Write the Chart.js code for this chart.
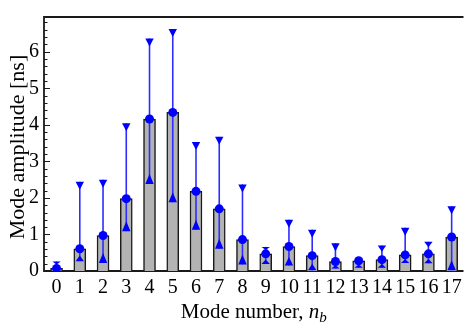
<!DOCTYPE html>
<html>
<head>
<meta charset="utf-8">
<script src="https://cdn.jsdelivr.net/npm/chart.js@4/dist/chart.umd.min.js"></script>
<style>
  html, body { margin: 0; padding: 0; background: #fff; }
  #wrap { width: 468px; height: 323px; }
</style>
</head>
<body>
<div id="wrap"><canvas id="modes" width="468" height="323"></canvas></div>
<script>
// mode number n_b and fitted amplitude (ns), with upper / lower bounds
const MODES     = [0, 1, 2, 3, 4, 5, 6, 7, 8, 9, 10, 11, 12, 13, 14, 15, 16, 17];
const AMPLITUDE = [0.07, 0.61, 0.97, 1.98, 4.16, 4.34, 2.18, 1.70, 0.86, 0.47, 0.67, 0.42, 0.26, 0.28, 0.31, 0.44, 0.47, 0.93];
const UPPER     = [0.26, 2.44, 2.50, 4.04, 6.36, 6.62, 3.53, 3.67, 2.37, 0.66, 1.40, 1.13, 0.76, 0.35, 0.70, 1.18, 0.80, 1.77];
const LOWER     = [0.00, 0.27, 0.22, 1.09, 2.38, 1.88, 1.13, 0.61, 0.18, 0.19, 0.15, 0.02, 0.07, 0.09, 0.09, 0.22, 0.21, 0.02];
const Y_MAJOR   = [0, 1, 2, 3, 4, 5, 6];

const FONT = 'Liberation Serif';
const BLUE = '#0000ff';
const INK  = '#1a1a1a';

// range error bars: line + inward-pointing heads, drawn right after the bars
const errorBars = {
  id: 'errorBars',
  afterDatasetDraw(c, args) {
    if (args.meta.type !== 'bar') return;
    const { ctx, scales: { x, y } } = c;
    ctx.save();
    ctx.strokeStyle = 'rgb(45,45,255)';
    ctx.fillStyle = BLUE;
    ctx.lineWidth = 1.6;
    MODES.forEach((m, i) => {
      const xp = x.getPixelForValue(m);
      const yc = y.getPixelForValue(AMPLITUDE[i]);
      const yh = y.getPixelForValue(UPPER[i]);
      const yl = y.getPixelForValue(LOWER[i]);
      ctx.beginPath();
      ctx.moveTo(xp, yl);
      ctx.lineTo(xp, yh);
      ctx.stroke();
      const w = 4.2;
      const hu = Math.max(2.5, Math.min(8, (yc - yh) * 0.45));
      ctx.beginPath();
      ctx.moveTo(xp - w, yh);
      ctx.lineTo(xp + w, yh);
      ctx.lineTo(xp, yh + hu);
      ctx.closePath();
      ctx.fill();
      if (LOWER[i] > 0.01) {
        const hl = Math.max(2.5, Math.min(10, (yl - yc) * 0.45));
        ctx.beginPath();
        ctx.moveTo(xp - w, yl);
        ctx.lineTo(xp + w, yl);
        ctx.lineTo(xp, yl - hl);
        ctx.closePath();
        ctx.fill();
      }
    });
    ctx.restore();
  }
};

// frame (top / left / bottom) with inward ticks
const frame = {
  id: 'frame',
  beforeDatasetsDraw(c) {
    const { ctx, chartArea: a, scales: { x, y } } = c;
    ctx.save();
    ctx.strokeStyle = INK;
    ctx.lineWidth = 1.8;
    ctx.beginPath();
    ctx.moveTo(a.right, a.top);
    ctx.lineTo(a.left, a.top);
    ctx.lineTo(a.left, a.bottom);
    ctx.lineTo(a.right, a.bottom);
    ctx.stroke();
    ctx.lineWidth = 1;
    ctx.beginPath();
    for (let v = 0; v <= 6.9; v += 0.2) {
      const major = Math.abs(v - Math.round(v)) < 1e-6;
      const yp = Math.round(y.getPixelForValue(v)) + 0.5;
      ctx.moveTo(a.left, yp);
      ctx.lineTo(a.left + (major ? 6 : 3.5), yp);
    }
    MODES.forEach(m => {
      const xp = Math.round(x.getPixelForValue(m)) + 0.5;
      ctx.moveTo(xp, a.bottom);
      ctx.lineTo(xp, a.bottom - 5);
    });
    ctx.stroke();
    ctx.restore();
  }
};

// axis titles (x title carries an italic subscripted symbol)
const titles = {
  id: 'titles',
  afterDraw(c) {
    const { ctx, chartArea: a } = c;
    ctx.save();
    ctx.fillStyle = '#000';
    ctx.textBaseline = 'alphabetic';

    const base = `21px "${FONT}"`;
    const ital = `italic 21px "${FONT}"`;
    const sub  = `italic 15px "${FONT}"`;
    const head = 'Mode number, ';
    ctx.font = base; const w1 = ctx.measureText(head).width;
    ctx.font = ital; const w2 = ctx.measureText('n').width;
    ctx.font = sub;  const w3 = ctx.measureText('b').width;
    let xs = (a.left + a.right) / 2 - (w1 + w2 + w3) / 2;
    const yb = 318;
    ctx.font = base; ctx.fillText(head, xs, yb); xs += w1;
    ctx.font = ital; ctx.fillText('n', xs, yb); xs += w2;
    ctx.font = sub;  ctx.fillText('b', xs, yb + 4);

    ctx.translate(24, 147);
    ctx.rotate(-Math.PI / 2);
    ctx.font = `22px "${FONT}"`;
    ctx.textAlign = 'center';
    ctx.fillText('Mode amplitude [ns]', 0, 0);
    ctx.restore();
  }
};

new Chart(document.getElementById('modes'), {
  type: 'bar',
  data: {
    datasets: [
      {
        type: 'scatter',
        data: MODES.map((m, i) => ({ x: m, y: AMPLITUDE[i] })),
        pointStyle: 'circle',
        pointRadius: 4.5,
        backgroundColor: BLUE,
        borderWidth: 0,
        order: 0
      },
      {
        type: 'bar',
        data: MODES.map((m, i) => ({ x: m, y: AMPLITUDE[i] })),
        backgroundColor: '#b3b3b3',
        borderColor: INK,
        borderWidth: 1.5,
        barThickness: 12,
        order: 1
      }
    ]
  },
  options: {
    responsive: false,
    animation: false,
    devicePixelRatio: 1,
    layout: { padding: { top: 7, left: 0, right: 0, bottom: 0 } },
    plugins: { legend: { display: false }, tooltip: { enabled: false } },
    scales: {
      x: {
        type: 'linear',
        min: -0.54,
        max: 17.51,
        offset: false,
        grid: { display: false, drawTicks: false },
        border: { display: false },
        ticks: {
          stepSize: 1,
          includeBounds: false,
          autoSkip: false,
          maxRotation: 0,
          padding: 5,
          color: '#000',
          font: { family: FONT, size: 20 },
          callback: v => Number.isInteger(v) ? String(v) : ''
        },
        afterFit: s => { s.height = 52; }
      },
      y: {
        min: 0,
        max: 6.95,
        grid: { display: false, drawTicks: false },
        border: { display: false },
        ticks: {
          stepSize: 1,
          includeBounds: false,
          padding: 5,
          color: '#000',
          font: { family: FONT, size: 20 },
          callback: v => Y_MAJOR.includes(v) ? String(v) : ''
        },
        afterFit: s => { s.width = 44; }
      }
    }
  },
  plugins: [frame, errorBars, titles]
});
</script>
</body>
</html>
